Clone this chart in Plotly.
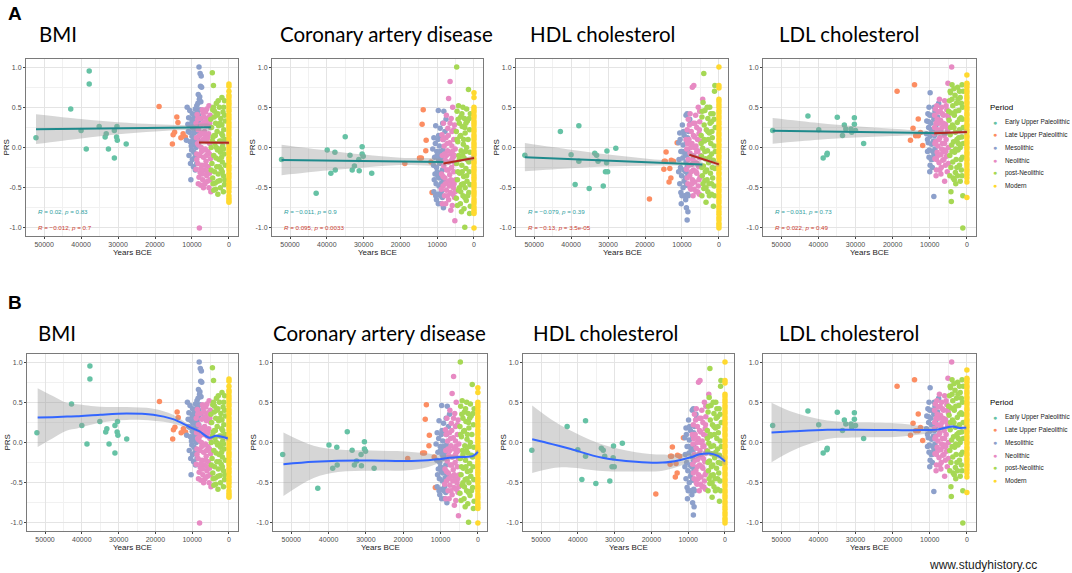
import plotly.graph_objects as go

# ---------------- categories / labels ----------------
PERIODS = ["Early Upper Paleolithic", "Late Upper Paleolithic", "Mesolithic",
           "Neolithic", "post-Neolithic", "Modern"]
PERIOD_COLORS = ["#66C2A5", "#FC8D62", "#8DA0CB", "#E78AC3", "#A6D854", "#FFD92F"]
TRAITS = ["BMI", "Coronary artery disease", "HDL cholesterol", "LDL cholesterol"]
X_TICKS = [50000, 40000, 30000, 20000, 10000, 0]
X_TICK_LABELS = ["50000", "40000", "30000", "20000", "10000", "0"]
X_MINOR = [45000, 35000, 25000, 15000, 5000]
Y_TICKS = [-1.0, -0.5, 0.0, 0.5, 1.0]
Y_TICK_LABELS = ["-1.0", "-0.5", "0.0", "0.5", "1.0"]
Y_MINOR = [-0.75, -0.25, 0.25, 0.75]
KYR = 1000  # point x values below are in thousands of years BCE

# ---------------- BMI points (kyr BCE, PRS) ----------------
BMI_EUP = [(52.2, 0.12), (37.8, 0.95), (37.8, 0.79), (42.8, 0.48), (40.0, 0.21), (38.6, -0.02),
           (35.1, 0.26), (33.2, 0.17), (33.5, 0.13), (32.6, -0.02), (31.0, 0.21), (30.3, 0.26),
           (30.4, 0.13), (30.2, 0.09), (31.0, -0.13), (27.8, 0.045)]
BMI_LUP = [(18.9, 0.51), (14.1, 0.38), (13.8, 0.31), (14.7, 0.19), (15.1, 0.16), (15.3, 0.045),
           (12.4, 0.17), (13.0, 0.12), (11.8, 0.13)]
BMI_MESO = [(8.1, 1.0), (7.8, 0.92), (7.5, 0.89), (7.7, 0.76), (7.4, 0.75), (8.3, 0.66), (7.9, 0.63),
            (8.0, 0.6), (7.6, 0.57), (8.4, 0.55), (11.3, 0.5), (10.6, 0.46), (9.9, 0.42), (9.1, 0.48),
            (8.6, 0.44), (10.9, 0.37), (9.6, 0.36), (8.9, 0.33), (8.2, 0.4), (7.8, 0.47), (11.1, 0.29),
            (10.3, 0.27), (9.8, 0.24), (9.3, 0.3), (8.7, 0.26), (8.1, 0.3), (7.6, 0.36), (10.7, 0.19),
            (10.0, 0.14), (9.4, 0.18), (8.8, 0.2), (8.2, 0.22), (11.5, 0.09), (10.5, 0.07), (9.7, 0.04),
            (9.0, 0.1), (8.5, 0.12), (10.1, -0.03), (9.5, -0.06), (8.9, 0.0), (10.8, -0.1), (9.9, -0.15),
            (9.2, -0.12), (10.3, -0.4), (9.6, -0.24), (8.7, -0.2), (10.0, 0.33), (9.3, 0.4), (8.5, 0.33),
            (11.0, 0.2), (9.5, 0.1), (8.3, 0.05), (10.4, -0.2), (9.1, -0.28), (8.7, 0.52), (10.2, 0.02)]
BMI_NEO = [(8.0, -1.0), (5.4, 0.52), (7.2, 0.47), (6.3, 0.44), (8.6, 0.41), (5.1, 0.4), (7.8, 0.36),
           (6.8, 0.38), (5.8, 0.33), (8.9, 0.3), (7.4, 0.29), (6.1, 0.27), (5.0, 0.25), (8.3, 0.22),
           (6.6, 0.2), (7.7, 0.16), (5.5, 0.17), (8.8, 0.12), (7.0, 0.1), (6.0, 0.08), (5.2, 0.05),
           (8.2, 0.03), (7.5, 0.0), (6.4, -0.02), (5.7, -0.05), (8.7, -0.08), (7.9, -0.1), (6.9, -0.12),
           (5.0, -0.14), (6.2, -0.17), (8.4, -0.2), (7.3, -0.22), (5.6, -0.24), (8.9, -0.27), (6.7, -0.28),
           (7.8, -0.31), (5.3, -0.32), (6.0, -0.35), (8.1, -0.37), (7.1, -0.4), (5.8, -0.42), (6.5, -0.45),
           (7.6, -0.47), (5.4, -0.5), (4.9, -0.55), (6.9, 0.3), (8.5, 0.05), (6.3, 0.14), (5.9, -0.3),
           (7.4, -0.05), (8.5, 0.35), (7.0, 0.43), (6.0, 0.48), (5.2, 0.3), (8.0, 0.15), (6.5, 0.32),
           (7.3, 0.18), (5.7, 0.12), (8.7, -0.15), (6.8, -0.03), (5.3, -0.08), (7.6, -0.26), (6.3, -0.22),
           (8.3, -0.45), (5.1, -0.4), (6.9, -0.5), (7.9, 0.08), (6.1, -0.1), (5.6, 0.37), (7.2, -0.33)]
BMI_POST = [(4.5, 0.93), (4.2, 0.77), (1.9, 0.62), (1.2, 0.58), (3.4, 0.55), (2.6, 0.5), (4.4, 0.47),
            (1.6, 0.44), (3.0, 0.42), (4.0, 0.38), (2.2, 0.36), (1.0, 0.33), (3.6, 0.3), (2.8, 0.27),
            (4.7, 0.25), (1.4, 0.22), (3.2, 0.2), (2.0, 0.17), (4.3, 0.13), (1.1, 0.1), (2.5, 0.08),
            (3.8, 0.05), (1.7, 0.02), (4.8, 0.0), (3.1, -0.03), (2.3, -0.06), (1.3, -0.08), (4.1, -0.1),
            (3.5, -0.13), (2.7, -0.15), (1.8, -0.18), (4.6, -0.2), (1.0, -0.22), (3.3, -0.24), (2.1, -0.27),
            (3.9, -0.3), (2.9, -0.33), (1.5, -0.35), (4.4, -0.38), (2.4, -0.41), (3.7, -0.44), (1.2, -0.46),
            (3.0, -0.58), (4.1, -0.53), (1.5, -0.55), (2.3, -0.5), (4.9, 0.35), (3.3, 0.4), (1.9, 0.28),
            (4.0, 0.15), (2.6, -0.02), (4.2, 0.5), (2.9, 0.58), (1.4, 0.5), (3.7, 0.15), (2.4, 0.3),
            (1.2, 0.4), (4.5, 0.08), (3.4, 0.0), (2.0, -0.12), (1.5, -0.02), (4.8, -0.28), (3.0, -0.42),
            (1.8, -0.3), (4.3, -0.45), (2.6, -0.24), (1.1, -0.4), (3.6, -0.52), (2.0, 0.08), (3.9, 0.45),
            (1.7, 0.15)]
BMI_MOD_Y = [0.79, 0.76, 0.7, 0.65, 0.62, 0.58, 0.55, 0.52, 0.48, 0.45, 0.41, 0.38, 0.35, 0.31, 0.28,
             0.25, 0.21, 0.18, 0.15, 0.11, 0.08, 0.05, 0.02, -0.02, -0.05, -0.08, -0.12, -0.15, -0.18,
             -0.22, -0.25, -0.28, -0.32, -0.35, -0.38, -0.42, -0.45, -0.48, -0.51, -0.55, -0.6, -0.63,
             -0.66, -0.68]

# ---------------- Coronary artery disease points ----------------
CAD_EUP = [(52.3, -0.15), (39.9, -0.03), (37.8, -0.06), (35.0, 0.135), (33.7, -0.095), (38.9, -0.32),
           (37.7, -0.28), (42.9, -0.57), (33.1, -0.28), (32.5, -0.23), (31.3, -0.15), (31.2, -0.29),
           (30.4, 0.01), (30.4, -0.08), (30.1, -0.11), (27.8, -0.32)]
CAD_LUP = [(13.8, 0.47), (14.1, 0.29), (13.0, 0.09), (13.1, -0.04), (14.8, -0.13), (14.3, -0.13),
           (18.8, -0.2), (11.4, -0.56), (11.7, -0.18)]
CAD_MESO = [(9.7, 0.46), (8.2, 0.45), (10.4, 0.27), (9.2, 0.24), (8.5, 0.3), (10.9, 0.12), (9.8, 0.1),
            (8.8, 0.15), (11.2, -0.02), (10.1, -0.05), (9.4, 0.02), (8.4, -0.03), (10.7, -0.12),
            (9.6, -0.15), (8.9, -0.1), (11.0, -0.22), (10.2, -0.25), (9.3, -0.2), (8.6, -0.28),
            (10.6, -0.33), (9.8, -0.36), (9.0, -0.32), (8.3, -0.4), (10.3, -0.45), (9.5, -0.48),
            (8.8, -0.44), (10.9, -0.55), (9.9, -0.58), (9.1, -0.6), (10.2, -0.65), (9.0, -0.7),
            (8.3, -0.75), (8.6, -0.62), (9.4, -0.38), (10.0, -0.3), (7.6, 0.35), (7.9, 0.2),
            (10.5, 0.05), (9.2, -0.05), (8.4, 0.1), (10.8, -0.4), (9.7, -0.7), (8.9, -0.55), (10.0, -0.1),
            (9.6, 0.15), (8.5, -0.15), (10.4, -0.6)]
CAD_NEO = [(6.5, 0.82), (6.9, 0.61), (5.8, 0.5), (7.5, 0.4), (6.2, 0.36), (8.3, 0.3), (5.3, 0.28),
           (7.1, 0.24), (6.0, 0.2), (8.7, 0.16), (7.6, 0.12), (5.5, 0.1), (6.6, 0.06), (8.1, 0.02),
           (5.1, -0.02), (7.2, -0.04), (6.3, -0.08), (8.6, -0.1), (5.7, -0.12), (7.8, -0.16), (6.8, -0.18),
           (5.2, -0.2), (8.2, -0.23), (6.1, -0.25), (7.4, -0.28), (5.5, -0.3), (8.8, -0.33), (6.6, -0.34),
           (7.9, -0.38), (5.0, -0.4), (7.0, -0.42), (6.0, -0.45), (8.4, -0.48), (5.6, -0.5), (7.5, -0.53),
           (6.4, -0.56), (8.0, -0.6), (5.3, -0.62), (6.9, -0.65), (7.7, -0.7), (5.9, -0.72), (6.3, -0.78),
           (5.2, -0.91), (7.3, 0.05), (5.9, -0.05), (8.5, 0.1), (7.0, 0.15), (5.5, 0.22), (6.5, 0.3),
           (8.0, -0.08), (6.0, -0.15), (5.3, -0.1), (7.5, -0.1), (8.4, -0.36), (6.3, -0.4), (5.4, -0.45),
           (7.2, -0.6), (8.6, -0.7), (6.7, -0.48), (5.8, -0.58), (7.8, -0.45), (6.0, 0.02), (7.0, -0.28),
           (5.1, -0.55), (8.9, -0.52)]
CAD_POST = [(4.7, 1.0), (1.5, 0.72), (4.2, 0.52), (3.0, 0.5), (2.0, 0.48), (4.6, 0.45), (1.0, 0.42),
            (3.6, 0.38), (2.6, 0.36), (1.8, 0.33), (4.0, 0.3), (3.2, 0.26), (1.2, 0.22), (4.8, 0.2),
            (2.4, 0.18), (3.8, 0.14), (1.6, 0.1), (4.4, 0.07), (2.9, 0.04), (2.0, 0.0), (3.5, -0.04),
            (1.1, -0.06), (4.1, -0.1), (2.7, -0.13), (1.7, -0.16), (4.7, -0.2), (3.3, -0.22), (2.2, -0.26),
            (1.3, -0.3), (3.9, -0.32), (2.8, -0.36), (4.5, -0.4), (1.9, -0.42), (3.4, -0.46), (2.4, -0.5),
            (4.2, -0.53), (1.4, -0.56), (3.0, -0.6), (4.8, -0.63), (2.1, -0.66), (3.7, -0.7), (1.0, -0.73),
            (2.7, -0.76), (3.4, -0.8), (1.2, -0.82), (2.5, -0.99), (4.0, -0.15), (2.5, 0.25), (4.3, 0.35),
            (3.3, 0.42), (2.2, 0.3), (1.3, 0.36), (4.6, 0.1), (3.6, 0.15), (2.8, 0.1), (1.4, -0.18),
            (2.3, -0.05), (3.1, -0.1), (4.4, -0.3), (2.0, -0.35), (3.6, -0.55), (1.7, -0.6), (4.5, -0.72),
            (2.9, -0.45), (1.1, -0.46), (4.0, -0.5), (2.5, -0.62), (3.2, -0.3)]
CAD_MOD_Y = [0.68, 0.62, 0.5, 0.47, 0.44, 0.4, 0.37, 0.33, 0.3, 0.27, 0.23, 0.2, 0.16, 0.13, 0.1, 0.06,
             0.03, 0.0, -0.04, -0.07, -0.1, -0.14, -0.17, -0.2, -0.24, -0.27, -0.3, -0.34, -0.37, -0.4,
             -0.44, -0.47, -0.5, -0.54, -0.57, -0.6, -0.64, -0.67, -0.7, -0.74, -0.77, -0.8, -0.82, -1.0]

# ---------------- HDL cholesterol points ----------------
HDL_EUP = [(52.5, -0.095), (42.9, 0.2), (37.9, 0.27), (40.0, -0.09), (37.9, -0.17), (38.9, -0.46),
           (35.1, -0.51), (33.6, -0.07), (33.1, -0.095), (32.7, -0.17), (30.4, -0.19), (30.3, -0.045),
           (30.7, -0.3), (30.1, -0.3), (31.3, -0.48), (27.9, -0.01)]
HDL_LUP = [(14.3, -0.055), (14.8, -0.17), (14.5, -0.17), (14.9, -0.27), (12.9, -0.16), (12.3, -0.17),
           (13.0, -0.38), (13.5, -0.43), (13.3, -0.26), (18.8, -0.64), (11.3, 0.06)]
HDL_MESO = [(8.6, 0.42), (8.9, 0.4), (9.9, 0.28), (10.6, 0.18), (9.4, 0.15), (8.3, 0.2), (10.9, 0.06),
            (9.7, 0.03), (8.8, 0.08), (10.3, -0.05), (9.2, -0.08), (8.5, -0.03), (10.8, -0.15),
            (9.8, -0.13), (8.9, -0.18), (10.4, -0.25), (9.5, -0.28), (8.6, -0.24), (10.1, -0.35),
            (9.1, -0.38), (8.4, -0.33), (10.6, -0.45), (9.7, -0.5), (8.8, -0.47), (10.3, -0.56),
            (9.3, -0.6), (8.5, -0.58), (10.2, -0.7), (8.8, -0.75), (8.4, -0.8), (8.6, -0.9), (9.0, -0.65),
            (7.9, 0.35), (7.7, 0.3), (10.5, 0.1), (9.6, 0.2), (8.5, 0.12), (10.9, -0.3), (9.4, -0.42),
            (8.7, -0.1), (10.0, -0.6), (9.0, -0.3), (8.3, -0.6), (9.8, -0.05)]
HDL_NEO = [(7.2, 0.75), (6.8, 0.77), (4.4, 0.6), (5.6, 0.5), (7.8, 0.42), (6.3, 0.4), (8.3, 0.35),
           (5.2, 0.32), (7.0, 0.3), (6.0, 0.25), (8.6, 0.22), (7.5, 0.2), (5.4, 0.17), (6.6, 0.13),
           (8.1, 0.1), (5.0, 0.08), (7.3, 0.05), (6.2, 0.02), (8.7, -0.02), (5.7, -0.04), (7.8, -0.07),
           (6.8, -0.1), (5.2, -0.13), (8.3, -0.15), (6.4, -0.18), (7.4, -0.21), (5.5, -0.24), (8.8, -0.27),
           (6.9, -0.28), (6.0, -0.32), (7.9, -0.35), (5.1, -0.37), (7.2, -0.4), (6.5, -0.43), (8.4, -0.45),
           (5.6, -0.48), (7.6, -0.52), (6.2, -0.55), (5.3, -0.58), (7.0, -0.6), (6.6, 0.0), (5.9, -0.2),
           (7.5, -0.3), (8.0, 0.28), (6.5, 0.3), (5.3, 0.22), (7.6, 0.0), (5.8, 0.1), (8.5, 0.05),
           (6.9, 0.15), (5.0, -0.1), (7.1, -0.15), (6.2, -0.3), (8.1, -0.22), (5.4, -0.4), (7.8, -0.5),
           (6.7, -0.52), (8.6, -0.38), (5.8, -0.55), (7.3, -0.45), (6.0, -0.05), (5.2, 0.45), (8.9, 0.1)]
HDL_POST = [(4.1, 0.92), (1.1, 0.77), (1.2, 0.7), (4.3, 0.56), (2.5, 0.5), (3.8, 0.46), (1.6, 0.42),
            (4.6, 0.38), (3.0, 0.36), (2.0, 0.32), (4.0, 0.28), (1.0, 0.25), (3.4, 0.22), (2.6, 0.18),
            (4.8, 0.15), (1.8, 0.12), (3.9, 0.08), (2.2, 0.05), (1.3, 0.02), (4.4, -0.01), (3.1, -0.04),
            (2.0, -0.08), (4.7, -0.11), (3.6, -0.14), (1.5, -0.16), (2.8, -0.19), (4.2, -0.23), (1.1, -0.26),
            (3.3, -0.28), (2.3, -0.32), (4.5, -0.35), (1.7, -0.38), (3.8, -0.41), (2.7, -0.45), (1.3, -0.48),
            (4.1, -0.51), (3.0, -0.55), (2.0, -0.58), (4.6, -0.6), (3.5, -0.68), (1.5, -0.73), (2.9, 0.1),
            (3.7, -0.3), (4.5, 0.45), (3.2, 0.5), (2.2, 0.42), (1.3, 0.35), (4.0, 0.1), (3.0, 0.2),
            (1.9, 0.2), (1.0, -0.05), (2.5, -0.12), (3.8, -0.05), (4.6, -0.25), (2.0, -0.45), (3.2, -0.4),
            (1.2, -0.6), (4.3, -0.45), (2.6, -0.6), (1.8, -0.25), (3.5, -0.5), (4.8, 0.05), (2.4, 0.3)]
HDL_MOD_Y = [1.0, 0.77, 0.74, 0.6, 0.57, 0.53, 0.5, 0.46, 0.43, 0.39, 0.36, 0.32, 0.29, 0.25, 0.22, 0.18,
             0.15, 0.11, 0.08, 0.04, 0.01, -0.03, -0.06, -0.1, -0.13, -0.17, -0.2, -0.24, -0.27, -0.31,
             -0.34, -0.38, -0.41, -0.45, -0.48, -0.52, -0.55, -0.59, -0.62, -0.66, -0.69, -0.73, -0.76,
             -0.8, -0.83, -0.87, -0.9, -0.94, -0.97, -1.0]

# ---------------- LDL cholesterol points ----------------
LDL_EUP = [(52.3, 0.21), (42.8, 0.39), (39.9, 0.22), (38.7, -0.13), (37.7, -0.09), (37.6, -0.07),
           (34.9, 0.375), (33.0, 0.28), (32.6, 0.23), (33.5, 0.15), (31.2, 0.23), (31.0, 0.19),
           (30.3, 0.37), (30.3, 0.29), (30.0, 0.21), (27.8, 0.05)]
LDL_LUP = [(18.8, 0.7), (14.1, 0.78), (13.1, 0.355), (14.5, 0.24), (13.8, 0.145), (13.1, 0.145),
           (15.2, 0.09), (11.9, 0.025), (12.5, 0.185)]
LDL_MESO = [(9.9, 0.68), (10.2, 0.5), (10.5, 0.42), (9.4, 0.4), (8.6, 0.45), (10.8, 0.33), (9.7, 0.3),
            (8.9, 0.35), (10.3, 0.25), (9.1, 0.22), (8.3, 0.28), (10.9, 0.17), (9.9, 0.14), (8.7, 0.15),
            (10.4, 0.06), (9.5, 0.04), (8.4, 0.08), (10.1, -0.03), (9.2, -0.05), (8.6, -0.02),
            (10.2, -0.12), (9.6, -0.15), (8.9, -0.1), (9.9, -0.22), (10.0, -0.3), (8.9, -0.61),
            (9.3, -0.25), (7.6, 0.55), (7.9, 0.38), (10.6, 0.1), (9.6, 0.22), (8.5, 0.2), (10.0, 0.4),
            (9.0, 0.08), (8.4, -0.08), (10.6, -0.05), (9.4, -0.15), (8.8, 0.5), (10.3, 0.32)]
LDL_NEO = [(4.1, 1.0), (5.1, 0.8), (7.4, 0.6), (6.0, 0.58), (8.1, 0.52), (6.8, 0.5), (5.4, 0.47),
           (7.7, 0.44), (8.7, 0.4), (6.3, 0.4), (5.0, 0.37), (7.1, 0.34), (8.3, 0.3), (5.8, 0.29),
           (6.7, 0.25), (7.9, 0.22), (5.2, 0.2), (8.8, 0.17), (6.1, 0.15), (7.3, 0.12), (5.6, 0.1),
           (8.4, 0.07), (6.6, 0.05), (7.8, 0.02), (5.0, 0.0), (6.2, -0.03), (8.0, -0.06), (7.0, -0.09),
           (5.5, -0.11), (8.6, -0.14), (6.5, -0.16), (7.5, -0.19), (5.8, -0.22), (6.9, -0.25), (8.2, -0.28),
           (5.3, -0.3), (7.0, -0.33), (8.3, -0.35), (6.0, -0.42), (7.6, 0.3), (6.4, -0.05), (8.5, 0.48),
           (7.2, 0.45), (5.6, 0.52), (6.4, 0.3), (5.2, 0.4), (8.0, 0.35), (7.0, 0.2), (6.0, 0.05),
           (8.7, 0.25), (5.4, 0.25), (7.5, 0.1), (6.8, -0.02), (8.2, -0.15), (5.7, -0.05), (7.3, -0.28),
           (6.2, -0.15), (5.0, -0.2), (7.8, -0.1), (6.6, 0.42), (8.6, 0.05)]
LDL_POST = [(4.0, 0.78), (1.3, 0.78), (2.5, 0.75), (1.0, 0.7), (4.4, 0.68), (3.2, 0.65), (1.8, 0.62),
            (4.7, 0.58), (2.8, 0.55), (3.8, 0.52), (1.2, 0.5), (2.2, 0.46), (4.2, 0.43), (3.4, 0.4),
            (1.6, 0.37), (4.8, 0.34), (2.6, 0.31), (3.9, 0.28), (1.0, 0.25), (2.0, 0.22), (3.1, 0.19),
            (4.5, 0.16), (1.4, 0.13), (2.7, 0.1), (3.6, 0.07), (4.1, 0.03), (1.8, 0.0), (2.4, -0.03),
            (3.3, -0.06), (4.6, -0.1), (1.2, -0.12), (2.9, -0.15), (3.8, -0.18), (2.0, -0.22), (4.3, -0.25),
            (1.5, -0.28), (3.1, -0.31), (2.5, -0.35), (3.7, -0.38), (1.8, -0.42), (3.0, -0.45), (4.3, -0.55),
            (4.2, -0.67), (1.1, -0.6), (1.1, -1.0), (4.9, 0.45), (2.3, 0.05), (4.5, 0.7), (3.5, 0.73),
            (2.0, 0.7), (1.5, 0.55), (4.0, 0.6), (3.0, 0.45), (2.4, 0.6), (1.2, 0.35), (4.4, 0.25),
            (3.5, 0.25), (2.2, 0.12), (1.0, 0.05), (4.0, -0.05), (3.0, -0.02), (1.6, -0.15), (4.6, -0.35),
            (2.7, -0.25), (1.3, -0.35), (3.4, -0.4), (2.0, 0.35)]
LDL_MOD_Y = [0.9, 0.8, 0.78, 0.75, 0.71, 0.68, 0.64, 0.61, 0.57, 0.54, 0.5, 0.47, 0.43, 0.4, 0.36, 0.33,
             0.29, 0.26, 0.22, 0.19, 0.15, 0.12, 0.08, 0.05, 0.01, -0.02, -0.06, -0.09, -0.13, -0.16, -0.2,
             -0.23, -0.27, -0.3, -0.34, -0.38, -0.43, -0.62]

# ---------------- Panel A: linear fits (kyr BCE) ----------------
BMI_PRE_X = [52.2, 40.0, 30.0, 20.0, 12.0, 4.9]
BMI_PRE_Y = [0.227, 0.233, 0.239, 0.244, 0.248, 0.252]
BMI_PRE_LO = [0.042, 0.113, 0.164, 0.199, 0.218, 0.217]
BMI_PRE_HI = [0.412, 0.353, 0.314, 0.289, 0.278, 0.287]
BMI_POST_X = [8.1, 4.0, 0.0]
BMI_POST_Y = [0.062, 0.060, 0.058]
BMI_POST_LO = [0.035, 0.045, 0.040]
BMI_POST_HI = [0.089, 0.075, 0.076]
CAD_PRE_X = [52.3, 40.0, 30.0, 20.0, 8.3]
CAD_PRE_Y = [-0.155, -0.162, -0.168, -0.173, -0.18]
CAD_PRE_LO = [-0.345, -0.287, -0.248, -0.218, -0.205]
CAD_PRE_HI = [0.035, -0.037, -0.088, -0.128, -0.155]
CAD_POST_X = [8.3, 4.0, 0.0]
CAD_POST_Y = [-0.2, -0.164, -0.13]
CAD_POST_LO = [-0.235, -0.18, -0.155]
CAD_POST_HI = [-0.165, -0.15, -0.105]
HDL_PRE_X = [52.5, 40.0, 30.0, 20.0, 10.0, 4.5]
HDL_PRE_Y = [-0.12, -0.143, -0.162, -0.181, -0.2, -0.21]
HDL_PRE_LO = [-0.295, -0.258, -0.237, -0.226, -0.225, -0.24]
HDL_PRE_HI = [0.055, -0.028, -0.087, -0.136, -0.175, -0.18]
HDL_POST_X = [8.0, 4.0, 0.0]
HDL_POST_Y = [-0.09, -0.15, -0.21]
HDL_POST_LO = [-0.125, -0.17, -0.235]
HDL_POST_HI = [-0.055, -0.13, -0.185]
LDL_PRE_X = [52.3, 40.0, 30.0, 20.0, 10.0, 5.2]
LDL_PRE_Y = [0.207, 0.2, 0.193, 0.187, 0.181, 0.178]
LDL_PRE_LO = [0.047, 0.095, 0.123, 0.142, 0.156, 0.148]
LDL_PRE_HI = [0.367, 0.305, 0.263, 0.232, 0.206, 0.208]
LDL_POST_X = [8.8, 4.0, 0.0]
LDL_POST_Y = [0.178, 0.186, 0.194]
LDL_POST_LO = [0.15, 0.165, 0.17]
LDL_POST_HI = [0.205, 0.207, 0.218]
STATS_PRE = ["<i>R</i> = 0.02, <i>p</i> = 0.83", "<i>R</i> = −0.011, <i>p</i> = 0.9",
             "<i>R</i> = −0.079, <i>p</i> = 0.39", "<i>R</i> = −0.031, <i>p</i> = 0.73"]
STATS_POST = ["<i>R</i> = −0.012, <i>p</i> = 0.7", "<i>R</i> = 0.095, <i>p</i> = 0.0033",
              "<i>R</i> = −0.13, <i>p</i> = 3.5e-05", "<i>R</i> = 0.022, <i>p</i> = 0.49"]

# ---------------- Panel B: loess fits (kyr BCE) ----------------
BMI_LOESS_X = [52.0, 48.0, 44.0, 41.3, 35.0, 27.8, 20.6, 15.2, 10.8, 8.1, 5.4, 3.5, 0.35]
BMI_LOESS_Y = [0.31, 0.315, 0.322, 0.325, 0.345, 0.36, 0.345, 0.29, 0.195, 0.14, 0.06, 0.083, 0.05]
BMI_LOESS_LO = [-0.055, 0.05, 0.15, 0.175, 0.245, 0.28, 0.27, 0.235, 0.17, 0.12, 0.04, 0.063, 0.025]
BMI_LOESS_HI = [0.675, 0.58, 0.49, 0.475, 0.445, 0.44, 0.42, 0.345, 0.22, 0.16, 0.08, 0.103, 0.075]
CAD_LOESS_X = [52.1, 44.0, 37.5, 28.5, 19.5, 13.3, 10.4, 7.5, 5.0, 1.4, 0.0]
CAD_LOESS_Y = [-0.27, -0.24, -0.227, -0.225, -0.23, -0.22, -0.207, -0.19, -0.18, -0.17, -0.116]
CAD_LOESS_LO = [-0.665, -0.44, -0.367, -0.35, -0.348, -0.303, -0.255, -0.22, -0.202, -0.192, -0.146]
CAD_LOESS_HI = [0.125, -0.04, -0.087, -0.1, -0.112, -0.137, -0.159, -0.16, -0.158, -0.148, -0.086]
HDL_LOESS_X = [52.4, 47.0, 42.4, 33.3, 24.2, 16.9, 12.4, 9.0, 6.9, 4.2, 1.9, 0.0]
HDL_LOESS_Y = [0.04, -0.02, -0.075, -0.19, -0.24, -0.25, -0.22, -0.18, -0.146, -0.137, -0.167, -0.237]
HDL_LOESS_LO = [-0.38, -0.32, -0.31, -0.355, -0.36, -0.35, -0.295, -0.225, -0.181, -0.167, -0.202, -0.282]
HDL_LOESS_HI = [0.46, 0.28, 0.16, -0.025, -0.12, -0.15, -0.145, -0.135, -0.111, -0.107, -0.132, -0.192]
LDL_LOESS_X = [52.6, 46.7, 37.6, 30.0, 19.4, 12.0, 8.0, 6.1, 3.8, 2.0, 0.2]
LDL_LOESS_Y = [0.125, 0.14, 0.158, 0.157, 0.154, 0.154, 0.16, 0.18, 0.2, 0.18, 0.185]
LDL_LOESS_LO = [-0.245, -0.095, 0.043, 0.062, 0.069, 0.104, 0.135, 0.16, 0.18, 0.16, 0.16]
LDL_LOESS_HI = [0.495, 0.375, 0.273, 0.252, 0.239, 0.204, 0.185, 0.2, 0.22, 0.2, 0.21]

# ---------------- assemble ----------------
POINTS = {
    "BMI": [BMI_EUP, BMI_LUP, BMI_MESO, BMI_NEO, BMI_POST, [(0.0, v) for v in BMI_MOD_Y]],
    "Coronary artery disease": [CAD_EUP, CAD_LUP, CAD_MESO, CAD_NEO, CAD_POST, [(0.0, v) for v in CAD_MOD_Y]],
    "HDL cholesterol": [HDL_EUP, HDL_LUP, HDL_MESO, HDL_NEO, HDL_POST, [(0.0, v) for v in HDL_MOD_Y]],
    "LDL cholesterol": [LDL_EUP, LDL_LUP, LDL_MESO, LDL_NEO, LDL_POST, [(0.0, v) for v in LDL_MOD_Y]],
}
LIN_FITS = {
    "BMI": [(BMI_PRE_X, BMI_PRE_Y, BMI_PRE_LO, BMI_PRE_HI), (BMI_POST_X, BMI_POST_Y, BMI_POST_LO, BMI_POST_HI)],
    "Coronary artery disease": [(CAD_PRE_X, CAD_PRE_Y, CAD_PRE_LO, CAD_PRE_HI), (CAD_POST_X, CAD_POST_Y, CAD_POST_LO, CAD_POST_HI)],
    "HDL cholesterol": [(HDL_PRE_X, HDL_PRE_Y, HDL_PRE_LO, HDL_PRE_HI), (HDL_POST_X, HDL_POST_Y, HDL_POST_LO, HDL_POST_HI)],
    "LDL cholesterol": [(LDL_PRE_X, LDL_PRE_Y, LDL_PRE_LO, LDL_PRE_HI), (LDL_POST_X, LDL_POST_Y, LDL_POST_LO, LDL_POST_HI)],
}
LOESS_FITS = {
    "BMI": (BMI_LOESS_X, BMI_LOESS_Y, BMI_LOESS_LO, BMI_LOESS_HI),
    "Coronary artery disease": (CAD_LOESS_X, CAD_LOESS_Y, CAD_LOESS_LO, CAD_LOESS_HI),
    "HDL cholesterol": (HDL_LOESS_X, HDL_LOESS_Y, HDL_LOESS_LO, HDL_LOESS_HI),
    "LDL cholesterol": (LDL_LOESS_X, LDL_LOESS_Y, LDL_LOESS_LO, LDL_LOESS_HI),
}

W, H = 1072, 573
PLOT_X_A = [(26, 238), (272, 483), (516, 728), (763, 976)]
PLOT_X_B = [(27, 238), (273, 487), (523, 734), (763, 976)]
ROW_Y = [(59, 236), (354, 531)]
TITLE_X = [[37, 278, 528, 777], [36, 271, 531, 777]]
TITLE_Y = [34, 333]
TEAL_LINE, RED_LINE = "#1E8A8C", "#B3261E"
TEAL_TXT, RED_TXT = "#2E9E9E", "#CC3A2E"
RIBBON = "rgba(153,153,153,0.4)"
FONT = "Liberation Sans, Arial, sans-serif"


def px(xp):
    return xp / W


def py(yp):
    return 1 - yp / H


fig = go.Figure()
annotations = []
layout = {}

for r in range(2):
    for c, trait in enumerate(TRAITS):
        n = r * 4 + c + 1
        xa, ya = ("x", "y") if n == 1 else (f"x{n}", f"y{n}")
        xk, yk = ("xaxis", "yaxis") if n == 1 else (f"xaxis{n}", f"yaxis{n}")
        xd = (PLOT_X_A if r == 0 else PLOT_X_B)[c]
        yd = ROW_Y[r]
        common = dict(showline=True, linecolor="#7a7a7a", linewidth=1, mirror=True, zeroline=False,
                      ticks="outside", ticklen=2, tickwidth=1, tickcolor="#444",
                      tickfont=dict(size=7, color="#4d4d4d", family=FONT),
                      showgrid=True, gridcolor="#e4e4e4", gridwidth=1)
        layout[xk] = dict(common, domain=[px(xd[0]), px(xd[1])], anchor=ya, range=[54900, -2450],
                          tickmode="array", tickvals=X_TICKS, ticktext=X_TICK_LABELS,
                          minor=dict(tickmode="array", tickvals=X_MINOR, showgrid=True,
                                     gridcolor="#f1f1f1", gridwidth=0.7, ticks=""))
        layout[yk] = dict(common, domain=[py(yd[1]), py(yd[0])], anchor=xa, range=[-1.1, 1.1],
                          tickmode="array", tickvals=Y_TICKS, ticktext=Y_TICK_LABELS,
                          minor=dict(tickmode="array", tickvals=Y_MINOR, showgrid=True,
                                     gridcolor="#f1f1f1", gridwidth=0.7, ticks=""))

        # points
        for k, series in enumerate(POINTS[trait]):
            fig.add_trace(go.Scatter(
                x=[p[0] * KYR for p in series], y=[p[1] for p in series], mode="markers",
                marker=dict(size=5.5, color=PERIOD_COLORS[k], line=dict(width=0)),
                name=PERIODS[k], showlegend=False, hoverinfo="skip", xaxis=xa, yaxis=ya))

        if r == 0:
            for (fx, fy, lo, hi), col in zip(LIN_FITS[trait], [TEAL_LINE, RED_LINE]):
                fig.add_trace(go.Scatter(
                    x=[v * KYR for v in fx] + [v * KYR for v in fx[::-1]], y=hi + lo[::-1],
                    fill="toself", fillcolor=RIBBON, line=dict(width=0, shape="spline"),
                    mode="lines", showlegend=False, hoverinfo="skip", xaxis=xa, yaxis=ya))
                fig.add_trace(go.Scatter(
                    x=[v * KYR for v in fx], y=fy, mode="lines", line=dict(color=col, width=2),
                    showlegend=False, hoverinfo="skip", xaxis=xa, yaxis=ya))
            annotations.append(dict(text=STATS_PRE[c], x=52300, y=-0.8, xref=xa, yref=ya,
                                    xanchor="left", yanchor="middle", showarrow=False,
                                    font=dict(size=6.2, color=TEAL_TXT, family=FONT)))
            annotations.append(dict(text=STATS_POST[c], x=52300, y=-1.0, xref=xa, yref=ya,
                                    xanchor="left", yanchor="middle", showarrow=False,
                                    font=dict(size=6.2, color=RED_TXT, family=FONT)))
        else:
            fx, fy, lo, hi = LOESS_FITS[trait]
            fig.add_trace(go.Scatter(
                x=[v * KYR for v in fx] + [v * KYR for v in fx[::-1]], y=hi + lo[::-1],
                fill="toself", fillcolor=RIBBON, line=dict(width=0, shape="spline"),
                mode="lines", showlegend=False, hoverinfo="skip", xaxis=xa, yaxis=ya))
            fig.add_trace(go.Scatter(
                x=[v * KYR for v in fx], y=fy, mode="lines",
                line=dict(color="#3366FF", width=2, shape="spline"),
                showlegend=False, hoverinfo="skip", xaxis=xa, yaxis=ya))

        # panel title and axis titles
        annotations.append(dict(text=trait, x=px(TITLE_X[r][c]), y=py(TITLE_Y[r]), xref="paper",
                                yref="paper", xanchor="left", yanchor="middle", showarrow=False,
                                font=dict(size=20.5, color="black", family="Lato")))
        annotations.append(dict(text="Years BCE", x=px((xd[0] + xd[1]) / 2), y=py(yd[1] + 16.5),
                                xref="paper", yref="paper", xanchor="center", yanchor="middle",
                                showarrow=False, font=dict(size=8, color="#1a1a1a", family=FONT)))
        annotations.append(dict(text="PRS", x=px(xd[0] - 20), y=py((yd[0] + yd[1]) / 2),
                                xref="paper", yref="paper", xanchor="center", yanchor="middle",
                                textangle=-90, showarrow=False,
                                font=dict(size=8, color="#1a1a1a", family=FONT)))

# row labels
annotations.append(dict(text="<b>A</b>", x=px(15), y=py(14), xref="paper", yref="paper",
                        xanchor="center", yanchor="middle", showarrow=False,
                        font=dict(size=19, color="black", family=FONT)))
annotations.append(dict(text="<b>B</b>", x=px(15), y=py(303), xref="paper", yref="paper",
                        xanchor="center", yanchor="middle", showarrow=False,
                        font=dict(size=19, color="black", family=FONT)))

# legends (one per row)
for top in (108, 403):
    annotations.append(dict(text="Period", x=px(988), y=py(top), xref="paper", yref="paper",
                            xanchor="left", yanchor="middle", showarrow=False,
                            font=dict(size=8, color="black", family=FONT)))
    for k, name in enumerate(PERIODS):
        yy = top + 14.3 + 12.6 * k
        annotations.append(dict(text="●", x=px(995), y=py(yy), xref="paper", yref="paper",
                                xanchor="center", yanchor="middle", showarrow=False,
                                font=dict(size=7, color=PERIOD_COLORS[k], family=FONT)))
        annotations.append(dict(text=name, x=px(1003), y=py(yy), xref="paper", yref="paper",
                                xanchor="left", yanchor="middle", showarrow=False,
                                font=dict(size=6.4, color="#1a1a1a", family=FONT)))

annotations.append(dict(text="www.studyhistory.cc", x=px(983), y=py(565), xref="paper", yref="paper",
                        xanchor="center", yanchor="middle", showarrow=False,
                        font=dict(size=12, color="#222", family=FONT)))

fig.update_layout(width=W, height=H, margin=dict(l=0, r=0, t=0, b=0),
                  paper_bgcolor="white", plot_bgcolor="white", showlegend=False,
                  annotations=annotations, **layout)
fig.write_html("out.html")
